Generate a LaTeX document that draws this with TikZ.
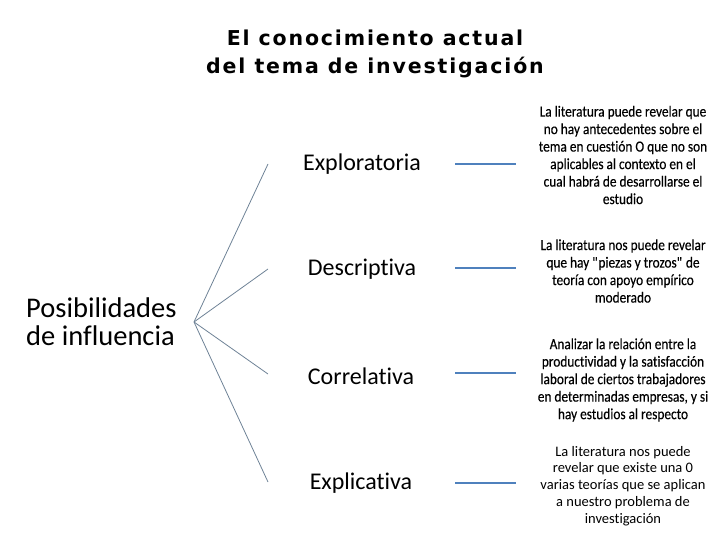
\documentclass[tikz,border=0pt]{standalone}
\usepackage{fontspec}
\setmainfont[Ligatures=NoCommon]{Carlito}
\newfontfamily\condfont[Ligatures=NoCommon,FakeStretch=0.86,FakeBold=0.3]{Carlito}
\newfontfamily\titlefont[LetterSpace=9]{DejaVu Sans}
\begin{document}
\begin{tikzpicture}[x=1pt,y=-1pt,
  fanline/.style={draw={rgb,255:red,110;green,130;blue,150},line width=0.8pt},
  blueline/.style={draw={rgb,255:red,79;green,129;blue,189},line width=1.2pt},
  kind/.style={font=\fontsize{24}{28}\selectfont,anchor=center,inner sep=0pt},
  desc/.style={font=\condfont\fontsize{15.5}{17.5}\selectfont,align=center,inner sep=0pt},
  descn/.style={font=\fontsize{14.5}{16.8}\selectfont,align=center,inner sep=0pt}]
\useasboundingbox (0,0) rectangle (720,540);
\node[font=\titlefont\bfseries\fontsize{20.5}{28}\selectfont,align=center] (title) at (375,54) {El conocimiento actual\\del tema de investigación};
\node[font=\fontsize{28.5}{28}\selectfont,align=left,anchor=west,inner sep=0pt] (pos) at (26,322) {Posibilidades\\de influencia};
\coordinate (apex) at (194,322);
\coordinate (f1) at (268,164);
\coordinate (f2) at (268,269);
\coordinate (f3) at (268,374);
\coordinate (f4) at (268,482);
\foreach \f in {f1,f2,f3,f4} \draw[fanline] (apex) -- (\f);
\node[kind] (k1) at (362,164) {Exploratoria};
\node[kind] (k2) at (362,269) {Descriptiva};
\node[kind] (k3) at (361,376) {Correlativa};
\node[kind] (k4) at (361,483) {Explicativa};
\coordinate (b1s) at (455,164); \coordinate (b1e) at (516,164);
\coordinate (b2s) at (455,268); \coordinate (b2e) at (516,268);
\coordinate (b3s) at (455,373); \coordinate (b3e) at (516,373);
\coordinate (b4s) at (455,483); \coordinate (b4e) at (516,483);
\draw[blueline] (b1s) -- (b1e);
\draw[blueline] (b2s) -- (b2e);
\draw[blueline] (b3s) -- (b3e);
\draw[blueline] (b4s) -- (b4e);
\node[desc] (d1) at (623,155) {La literatura puede revelar que\\no hay antecedentes sobre el\\tema en cuestión O que no son\\aplicables al contexto en el\\cual habrá de desarrollarse el\\estudio};
\node[desc] (d2) at (623,271) {La literatura nos puede revelar\\que hay \textquotedbl piezas y trozos\textquotedbl{} de\\teoría con apoyo empírico\\moderado};
\node[desc] (d3) at (623,380) {Analizar la relación entre la\\productividad y la satisfacción\\laboral de ciertos trabajadores\\en determinadas empresas, y si\\hay estudios al respecto};
\node[descn] (d4) at (623,486) {La literatura nos puede\\revelar que existe una 0\\varias teorías que se aplican\\a nuestro problema de\\investigación};
\end{tikzpicture}
\end{document}
